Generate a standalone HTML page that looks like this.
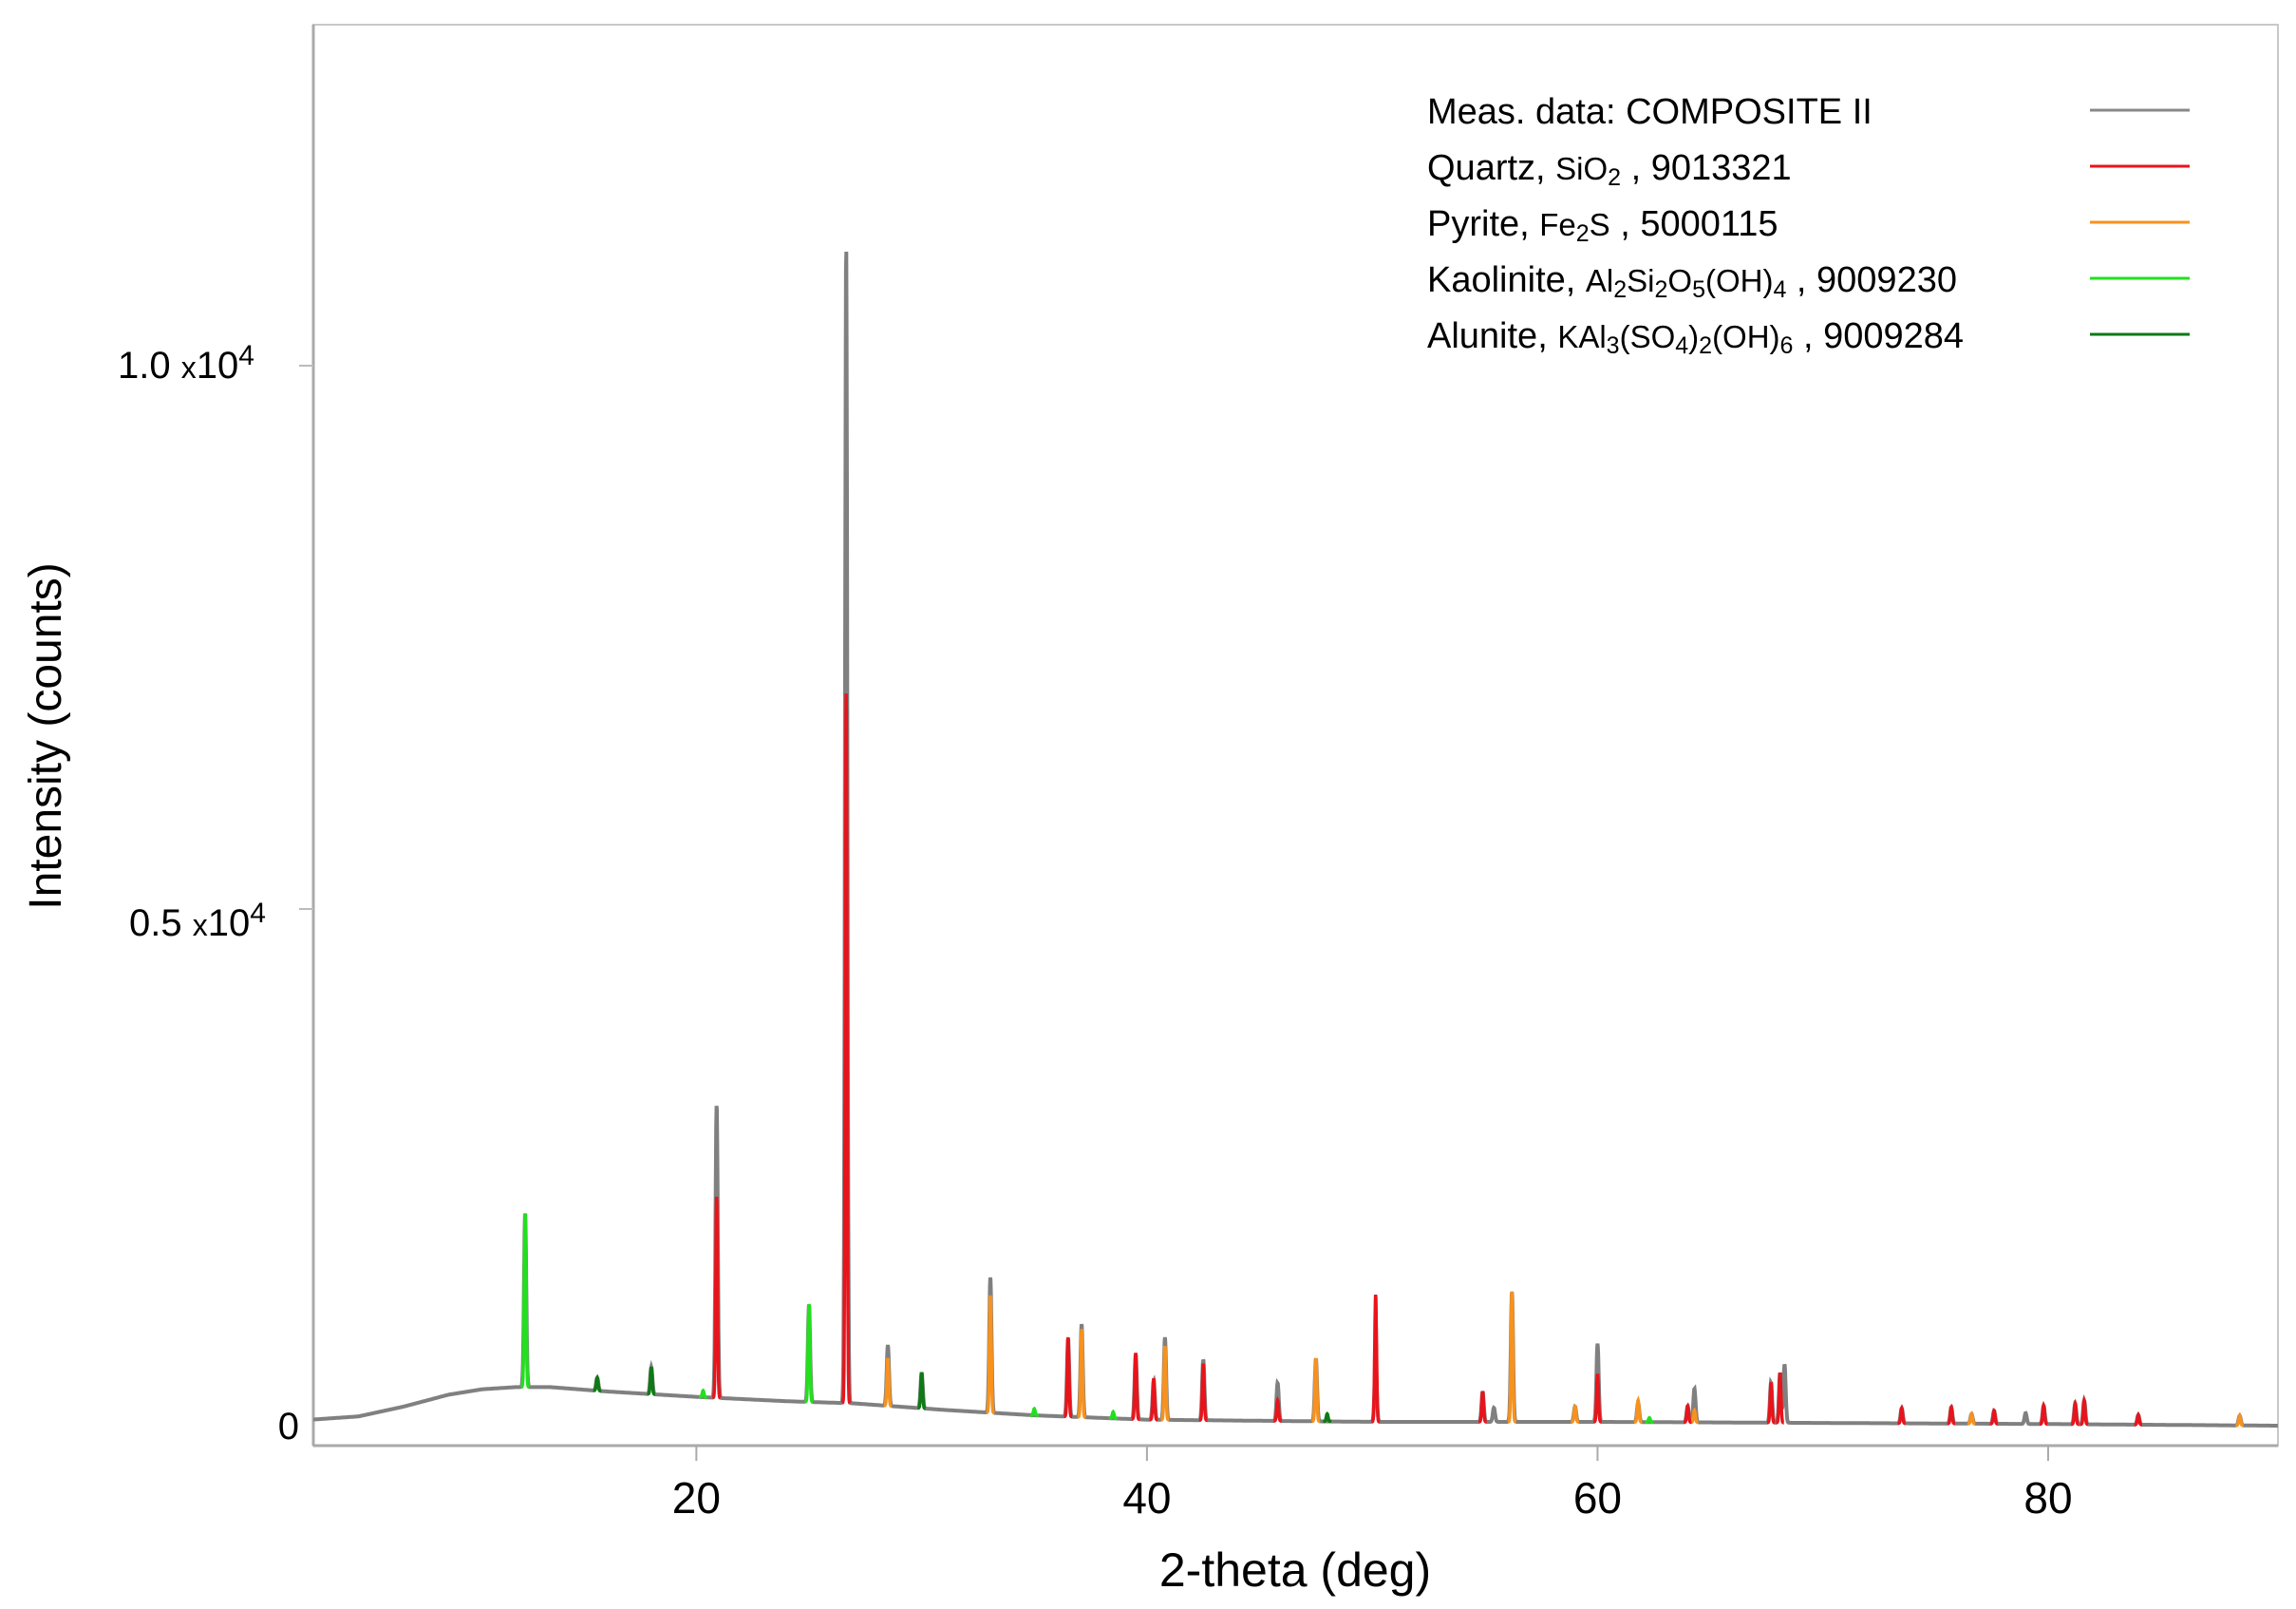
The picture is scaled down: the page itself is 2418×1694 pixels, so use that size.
<!DOCTYPE html>
<html><head><meta charset="utf-8"><style>
html,body{margin:0;padding:0;background:#fff;}
svg{display:block;font-family:"Liberation Sans",sans-serif;}
</style></head><body>
<svg id="chart" width="2418" height="1694" viewBox="0 0 2418 1694">
<rect x="330" y="26" width="2069" height="1496" fill="none" stroke="#c8c8c8" stroke-width="2"/>
<g id="axes"></g>
<g id="series"></g>
<g id="legend">
 <text x="1503" y="130" font-size="38">Meas. data: COMPOSITE II</text>
 <line x1="2201" y1="116" x2="2306" y2="116" stroke="#888" stroke-width="3"/>
 <text x="1503" y="189" font-size="38">Quartz, <tspan font-size="33">SiO</tspan><tspan font-size="25" dy="6">2</tspan><tspan dy="-6">  , 9013321</tspan></text>
 <line x1="2201" y1="175" x2="2306" y2="175" stroke="#e8141c" stroke-width="3"/>
 <text x="1503" y="248" font-size="38">Pyrite, <tspan font-size="33">Fe</tspan><tspan font-size="25" dy="6">2</tspan><tspan font-size="33" dy="-6">S</tspan>   , 5000115</text>
 <line x1="2201" y1="234" x2="2306" y2="234" stroke="#f7921e" stroke-width="3"/>
 <text x="1503" y="307" font-size="38">Kaolinite, <tspan font-size="33">Al</tspan><tspan font-size="25" dy="6">2</tspan><tspan font-size="33" dy="-6">Si</tspan><tspan font-size="25" dy="6">2</tspan><tspan font-size="33" dy="-6">O</tspan><tspan font-size="25" dy="6">5</tspan><tspan font-size="33" dy="-6">(OH)</tspan><tspan font-size="25" dy="6">4</tspan><tspan dy="-6">  , 9009230</tspan></text>
 <line x1="2201" y1="293" x2="2306" y2="293" stroke="#22e01e" stroke-width="3"/>
 <text x="1503" y="366" font-size="38">Alunite,  <tspan font-size="33">KAl</tspan><tspan font-size="25" dy="6">3</tspan><tspan font-size="33" dy="-6">(SO</tspan><tspan font-size="25" dy="6">4</tspan><tspan font-size="33" dy="-6">)</tspan><tspan font-size="25" dy="6">2</tspan><tspan font-size="33" dy="-6">(OH)</tspan><tspan font-size="25" dy="6">6</tspan><tspan dy="-6">  , 9009284</tspan></text>
 <line x1="2201" y1="352" x2="2306" y2="352" stroke="#0e7a16" stroke-width="3"/>
</g>
<text x="1364" y="1670" font-size="50" text-anchor="middle">2-theta (deg)</text>
<text transform="translate(64,775) rotate(-90)" font-size="48" text-anchor="middle">Intensity (counts)</text>
<text x="124" y="398" font-size="40">1.0 <tspan font-size="32">x</tspan>10<tspan font-size="30" dy="-14">4</tspan></text>
<text x="136" y="985" font-size="40">0.5 <tspan font-size="32">x</tspan>10<tspan font-size="30" dy="-14">4</tspan></text>
<text x="315" y="1515" font-size="40" text-anchor="end">0</text>
</svg>
<script>
const xTicks = [20, 40, 60, 80];
const baseX = [2.9, 5, 7, 9, 10.5, 12, 13.5, 16, 20, 24, 27, 31, 35, 40, 50, 60, 70, 80, 90];
const baseY = [300, 330, 420, 530, 580, 600, 600, 560, 510, 470, 450, 390, 340, 300, 280, 280, 270, 260, 245];
const measPos = [12.4, 15.6, 18.0, 20.9, 25.0, 26.65, 28.5, 30.0, 33.05, 36.5, 37.1, 39.5, 40.3, 40.8, 42.5, 45.8, 47.5, 50.15, 54.9, 55.4, 56.2, 59.0, 60.0, 61.8, 64.0, 64.3, 67.7, 68.1, 68.3, 73.5, 75.7, 76.6, 77.6, 79.0, 79.8, 81.2, 81.6, 84.0, 88.5];
const measHeight = [1600, 120, 250, 2700, 900, 10650, 560, 330, 1250, 720, 860, 600, 360, 760, 560, 350, 580, 540, 280, 130, 1200, 140, 720, 180, 150, 310, 370, 460, 540, 140, 150, 90, 120, 100, 170, 190, 220, 90, 90];
const quartzPos = [20.9, 26.65, 36.5, 39.5, 40.3, 42.5, 45.8, 50.15, 54.9, 60.0, 64.0, 67.7, 68.1, 73.5, 75.7, 77.6, 79.8, 81.2, 81.6, 84.0];
const quartzHeight = [1850, 6530, 730, 610, 380, 520, 190, 1170, 280, 440, 150, 370, 460, 140, 150, 120, 170, 190, 220, 90];
const pyritePos = [28.5, 33.05, 37.1, 40.8, 47.5, 56.2, 59.0, 61.8, 64.3, 76.6, 88.5];
const pyriteHeight = [440, 1080, 810, 680, 580, 1200, 140, 200, 110, 90, 90];
const kaolPos = [12.4, 20.3, 25.0, 35.0, 38.5, 62.3];
const kaolHeight = [1600, 60, 900, 60, 60, 40];
const aluPos = [15.6, 18.0, 30.0, 48.0];
const aluHeight = [120, 250, 330, 70];

const NS = 'http://www.w3.org/2000/svg';
const X0 = 3.0, X1 = 90.2, PX0 = 330, PX1 = 2399;
const xs = d => PX0 + (d - X0) / (X1 - X0) * (PX1 - PX0);
const ys = c => 1529 - c * 0.1144;
function base(d) {
  for (let i = 0; i < baseX.length - 1; i++) {
    if (d <= baseX[i + 1]) {
      const t = (d - baseX[i]) / (baseX[i + 1] - baseX[i]);
      return baseY[i] + t * (baseY[i + 1] - baseY[i]);
    }
  }
  return baseY[baseY.length - 1];
}
function prof(d, pos, h, w) {
  let s = 0;
  for (let i = 0; i < pos.length; i++) {
    const u = (d - pos[i]) / w;
    s += h[i] * Math.exp(-0.5 * u * u);
  }
  return s;
}
const axes = document.getElementById('axes');
const series = document.getElementById('series');
const xAxis = document.createElementNS(NS, 'line');


xAxis.setAttribute('x1', PX0); xAxis.setAttribute('x2', PX1);
xAxis.setAttribute('y1', 1522); xAxis.setAttribute('y2', 1522);
xAxis.setAttribute('stroke', '#aaa'); xAxis.setAttribute('stroke-width', 3);
axes.appendChild(xAxis);
const yAxis = document.createElementNS(NS, 'line');


yAxis.setAttribute('x1', 330); yAxis.setAttribute('x2', 330);
yAxis.setAttribute('y1', 26); yAxis.setAttribute('y2', 1522);
yAxis.setAttribute('stroke', '#aaa'); yAxis.setAttribute('stroke-width', 3);
axes.appendChild(yAxis);
xTicks.forEach(t => {
  const l = document.createElementNS(NS, 'line');
  
  
  l.setAttribute('x1', xs(t)); l.setAttribute('x2', xs(t));
  l.setAttribute('y1', 1522); l.setAttribute('y2', 1538);
  l.setAttribute('stroke', '#aaa'); l.setAttribute('stroke-width', 2);
  axes.appendChild(l);
  const tx = document.createElementNS(NS, 'text');
  
  
  tx.setAttribute('x', xs(t)); tx.setAttribute('y', 1593);
  tx.setAttribute('font-size', 46); tx.setAttribute('text-anchor', 'middle');
  tx.textContent = t;
  axes.appendChild(tx);
});
[385, 957].forEach((y, i) => {
  const l = document.createElementNS(NS, 'line');
  
  
  l.setAttribute('x1', 315); l.setAttribute('x2', 330);
  l.setAttribute('y1', y); l.setAttribute('y2', y);
  l.setAttribute('stroke', '#bbb'); l.setAttribute('stroke-width', 2);
  axes.appendChild(l);
});
let d = '';
for (let t = X0; t <= X1; t += 0.015) {
  const c = base(t) + prof(t, measPos, measHeight, 0.05);
  d += (d ? 'L' : 'M') + xs(t).toFixed(1) + ' ' + ys(c).toFixed(1);
}
const meas = document.createElementNS(NS, 'path');


meas.setAttribute('d', d); meas.setAttribute('fill', 'none');
meas.setAttribute('stroke', '#808080'); meas.setAttribute('stroke-width', 4);
series.appendChild(meas);
function phase(pos, h, color, name) {
  pos.forEach((p, i) => {
    let dd = '';
    for (let t = p - 0.18; t <= p + 0.18; t += 0.01) {
      const c = base(t) + h[i] * Math.exp(-0.5 * Math.pow((t - p) / 0.04, 2));
      dd += (dd ? 'L' : 'M') + xs(t).toFixed(1) + ' ' + ys(c).toFixed(1);
    }
    const el = document.createElementNS(NS, 'path');
    
    
    el.setAttribute('d', dd); el.setAttribute('fill', 'none');
    el.setAttribute('stroke', color); el.setAttribute('stroke-width', 3.5);
    series.appendChild(el);
  });
}
phase(aluPos, aluHeight, '#0e7a16', 'alunite-peak');
phase(kaolPos, kaolHeight, '#22e01e', 'kaolinite-peak');
phase(pyritePos, pyriteHeight, '#f7921e', 'pyrite-peak');
phase(quartzPos, quartzHeight, '#e8141c', 'quartz-peak');
</script>
</body></html>
